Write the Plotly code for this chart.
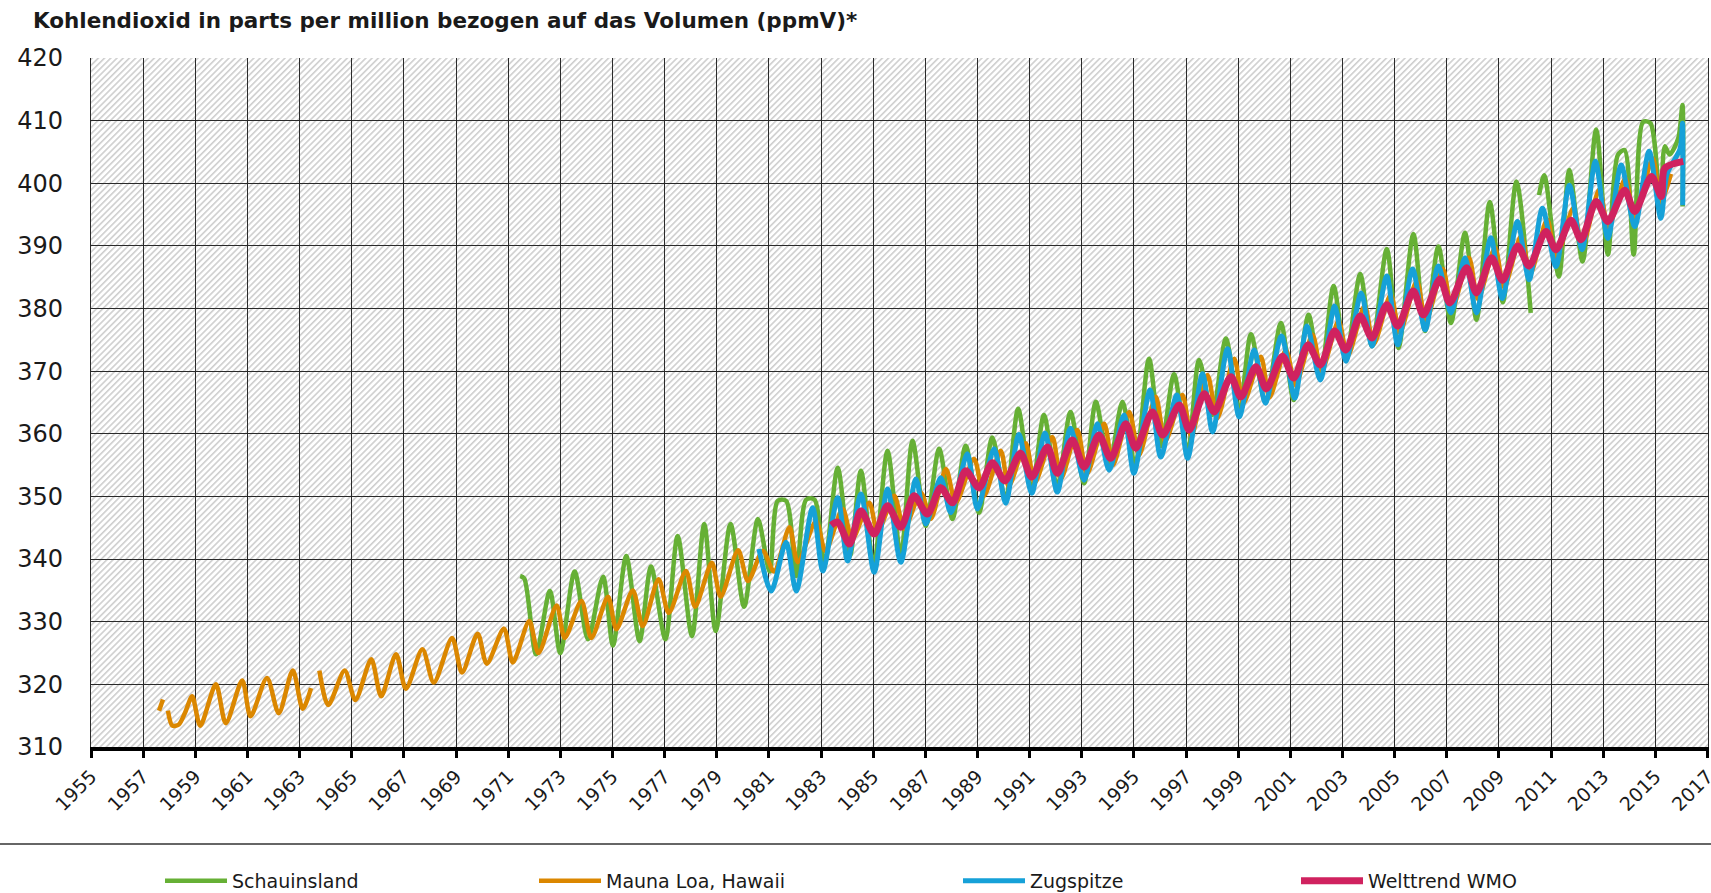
import base64
import plotly.graph_objects as go

# ---------------- data ----------------
YEAR_TICKS = list(range(1955, 2018, 2))
PPM_TICKS = list(range(310, 421, 10))

mauna_x = [1957.61, 1957.76, None, 1957.95, 1958.12, 1958.37, 1958.62, 1958.88, 1959.19,
           1959.79, 1960.17, 1960.80, 1961.12, 1961.75, 1962.20, 1962.74, 1963.12, 1963.44, None,
           1963.76, 1964.10, 1964.73, 1965.14, 1965.75, 1966.13, 1966.70, 1967.08, 1967.71, 1968.15,
           1968.85, 1969.23, 1969.83, 1970.18, 1970.84, 1971.18, 1971.81, 1972.16, 1972.86, 1973.17,
           1973.81, 1974.19, 1974.83, 1975.15, 1975.78, 1976.16, 1976.77, 1977.16, 1977.82, 1978.17,
           1978.81, 1979.15, 1979.82, 1980.20, 1980.77, 1981.20, 1981.79, 1982.11, 1982.81, 1983.17,
           1983.83, 1984.20, 1984.85, 1985.17, 1985.81, 1986.19, 1986.83, 1987.21, 1987.79, 1988.17,
           1988.87, 1989.25, 1989.89, 1990.20, 1990.85, 1991.20, 1991.87, 1992.20, 1992.83, 1993.20,
           1993.86, 1994.20, 1994.82, 1995.20, 1995.84, 1996.20, 1996.86, 1997.20, 1997.82, 1998.20,
           1998.85, 1999.20, 1999.87, 2000.20, 2000.83, 2001.20, 2001.85, 2002.20, 2002.85, 2003.20,
           2003.85, 2004.20, 2004.85, 2005.20, 2005.85, 2006.20, 2006.85, 2007.20, 2007.85, 2008.20,
           2008.85, 2009.20, 2009.85, 2010.20, 2010.85, 2011.20, 2011.85, 2012.20, 2012.85, 2013.20,
           2013.85, 2014.20, 2014.90, 2015.20, 2015.60]
mauna_ppm = [315.8, 317.6, None, 315.8, 313.4, 313.6, 315.6, 318.1, 313.4,
             320.0, 313.8, 320.6, 314.9, 321.0, 315.4, 322.2, 316.1, 319.4, None,
             322.2, 316.7, 322.2, 317.5, 324.0, 318.1, 324.8, 319.3, 325.6, 320.3,
             327.4, 321.9, 328.1, 323.3, 328.9, 323.5, 330.1, 325.0, 332.6, 327.4,
             333.3, 327.4, 334.0, 328.8, 335.0, 329.3, 336.8, 331.4, 338.1, 332.4,
             339.4, 334.0, 341.4, 336.5, 341.3, 338.0, 345.1, 339.5, 346.1, 341.3,
             348.0, 343.2, 349.0, 344.3, 350.1, 344.8, 350.6, 346.4, 354.4, 349.0,
             356.0, 350.1, 357.3, 351.6, 358.5, 352.2, 359.5, 352.8, 360.6, 353.6,
             361.6, 355.0, 363.5, 356.6, 365.9, 358.8, 366.2, 359.6, 369.4, 362.5,
             372.0, 364.9, 372.3, 365.8, 373.4, 367.8, 375.8, 370.0, 378.0, 372.4,
             380.4, 374.3, 382.2, 376.2, 384.4, 378.0, 386.3, 379.9, 388.1, 381.5,
             389.7, 383.4, 391.6, 385.5, 394.2, 388.0, 396.0, 390.0, 399.0, 392.9,
             400.8, 394.5, 404.0, 397.0, 401.5]

schau_x = [1971.46, 1971.62, 1972.07, 1972.60, 1973.00, 1973.55, 1974.06, 1974.64, 1975.02,
           1975.53, 1976.04, 1976.48, 1977.03, 1977.50, 1978.05, 1978.52, 1978.96, 1979.53,
           1980.05, 1980.58, 1981.03, 1981.34, 1981.66, 1982.05, 1982.43, 1982.75, 1983.13,
           1983.64, 1984.11, 1984.53, 1985.02, 1985.55, 1986.06, 1986.51, 1987.02, 1987.53,
           1988.04, 1988.55, 1989.06, 1989.57, 1990.08, 1990.56, 1991.08, 1991.55, 1992.06,
           1992.57, 1993.09, 1993.54, 1994.05, 1994.56, 1995.05, 1995.58, 1996.05, 1996.54,
           1997.06, 1997.50, 1998.00, 1998.53, 1999.04, 1999.49, 2000.05, 2000.64, 2001.13,
           2001.70, 2002.15, 2002.66, 2003.13, 2003.68, 2004.13, 2004.70, 2005.15, 2005.72,
           2006.17, 2006.68, 2007.16, 2007.70, 2008.14, 2008.65, 2009.15, 2009.67, 2010.22, None,
           2010.54, 2010.74, 2011.30, 2011.70, 2012.21, 2012.73, 2013.18, 2013.56, 2013.82,
           2014.17, 2014.53, 2014.81, 2015.20, 2015.36, 2015.55, 2015.88, 2016.04, 2016.05]
schau_ppm = [337.3, 336.9, 324.8, 334.9, 325.0, 338.0, 327.2, 337.2, 326.2,
             340.5, 326.9, 338.8, 327.2, 343.7, 327.7, 345.6, 328.5, 345.6,
             332.4, 346.4, 338.0, 349.3, 349.3, 337.3, 349.5, 349.5, 339.0,
             354.6, 340.5, 354.1, 339.0, 357.3, 340.5, 358.9, 345.3, 357.6,
             346.4, 358.1, 347.4, 359.4, 349.5, 364.0, 351.0, 363.0, 351.5,
             363.5, 352.1, 365.1, 355.0, 365.1, 355.0, 372.0, 358.0, 369.5,
             357.0, 371.8, 363.0, 375.2, 363.5, 375.9, 365.0, 377.7, 365.4,
             379.0, 369.0, 383.6, 372.0, 385.5, 374.0, 389.5, 373.7, 391.9,
             376.4, 389.9, 377.7, 392.1, 378.2, 397.0, 381.0, 400.3, 379.3, None,
             398.1, 401.3, 385.1, 402.1, 387.5, 408.6, 388.6, 404.5, 405.3,
             388.6, 409.8, 409.6, 396.0, 405.9, 404.6, 407.2, 412.5, 396.3]

zug_x = [1980.62, 1981.09, 1981.66, 1982.05, 1982.68, 1983.07, 1983.64, 1984.02, 1984.53,
         1985.04, 1985.55, 1986.06, 1986.64, 1987.02, 1987.59, 1987.98, 1988.61, 1989.00,
         1989.64, 1990.08, 1990.59, 1991.08, 1991.59, 1992.06, 1992.57, 1993.09, 1993.60,
         1994.05, 1994.62, 1995.00, 1995.62, 1996.03, 1996.65, 1997.06, 1997.63, 1998.02,
         1998.59, 1999.04, 1999.62, 2000.04, 2000.66, 2001.17, 2001.64, 2002.15, 2002.70,
         2003.13, 2003.72, 2004.13, 2004.70, 2005.12, 2005.69, 2006.17, 2006.68, 2007.16,
         2007.70, 2008.14, 2008.69, 2009.13, 2009.71, 2010.16, 2010.67, 2011.19, 2011.70,
         2012.19, 2012.70, 2013.18, 2013.69, 2014.21, 2014.76, 2015.21, 2015.45, 2015.95,
         2016.04, 2016.05]
zug_ppm = [341.6, 334.9, 342.7, 334.9, 348.2, 338.1, 349.8, 339.7, 350.4,
           337.9, 351.2, 339.5, 352.8, 345.6, 353.0, 347.4, 356.8, 348.0,
           357.6, 348.9, 359.9, 350.5, 360.1, 350.7, 360.9, 352.6, 361.6,
           354.2, 363.0, 353.7, 367.0, 356.3, 366.2, 356.1, 369.6, 360.3,
           373.6, 362.7, 373.4, 364.9, 375.6, 365.7, 377.2, 368.6, 380.4,
           371.6, 382.5, 374.0, 385.2, 374.2, 386.3, 376.6, 386.8, 379.3,
           388.1, 379.3, 391.3, 381.6, 393.9, 384.6, 396.0, 386.7, 399.7,
           389.4, 403.5, 391.2, 402.9, 393.1, 405.1, 394.4, 401.5, 405.5,
           409.6, 396.5]

wmo_x = [1983.39, 1983.64, 1984.09, 1984.53, 1985.04, 1985.55, 1986.06, 1986.57, 1987.08,
         1987.59, 1988.04, 1988.55, 1989.06, 1989.57, 1990.05, 1990.65, 1991.08, 1991.68,
         1992.06, 1992.64, 1993.09, 1993.66, 1994.11, 1994.69, 1995.07, 1995.71, 1996.10,
         1996.74, 1997.12, 1997.70, 1998.08, 1998.72, 1999.10, 1999.68, 2000.08, 2000.70,
         2001.13, 2001.68, 2002.15, 2002.70, 2003.13, 2003.68, 2004.13, 2004.70, 2005.12,
         2005.72, 2006.10, 2006.74, 2007.12, 2007.76, 2008.14, 2008.72, 2009.14, 2009.72,
         2010.16, 2010.80, 2011.19, 2011.76, 2012.15, 2012.73, 2013.18, 2013.82, 2014.21,
         2014.85, 2015.23, 2015.36, 2016.07]
wmo_ppm = [345.4, 345.9, 342.4, 347.7, 344.0, 348.5, 345.1, 350.1, 347.2,
           351.4, 349.0, 354.1, 351.4, 355.4, 352.5, 356.9, 353.1, 357.9,
           353.7, 359.0, 354.7, 359.8, 356.1, 361.6, 357.7, 363.5, 359.8,
           364.6, 360.6, 366.4, 363.5, 369.1, 365.9, 370.7, 367.2, 372.4,
           368.9, 374.2, 371.0, 376.4, 373.4, 378.8, 375.3, 380.6, 377.2,
           382.8, 379.0, 384.7, 380.9, 386.5, 382.5, 388.1, 384.5, 390.0,
           386.8, 392.3, 389.4, 394.1, 391.0, 397.1, 393.9, 398.9, 395.5,
           401.1, 397.9, 402.4, 403.5]

for a, b in [(mauna_x, mauna_ppm), (schau_x, schau_ppm), (zug_x, zug_ppm), (wmo_x, wmo_ppm)]:
    assert len(a) == len(b), (len(a), len(b))

SERIES = [
    ("Schauinsland", schau_x, schau_ppm, "#66b035", 4.5),
    ("Mauna Loa, Hawaii", mauna_x, mauna_ppm, "#db8700", 4.5),
    ("Zugspitze", zug_x, zug_ppm, "#16a1d8", 5),
    ("Welttrend WMO", wmo_x, wmo_ppm, "#d0225f", 7),
]
LEGEND_LEFT_PX = [166, 540, 964, 1302]   # where each legend line sample starts

# ---------------- layout geometry ----------------
W, H = 1711, 893
ML, MR, MT, MB = 91, 3, 58, 146
PW, PH = W - ML - MR, H - MT - MB

# hatched plot background (drawn below the grid)
svg = (
    f"<svg xmlns='http://www.w3.org/2000/svg' width='{PW}' height='{PH}'>"
    "<defs><pattern id='h' width='4.4' height='4.4' patternUnits='userSpaceOnUse' "
    "patternTransform='rotate(45)'><rect width='4.4' height='4.4' fill='#ffffff'/>"
    "<line x1='0.8' y1='0' x2='0.8' y2='4.4' stroke='#cbcbcb' stroke-width='1.5'/></pattern></defs>"
    "<rect width='100%' height='100%' fill='url(#h)'/></svg>"
)
hatch_uri = "data:image/svg+xml;base64," + base64.b64encode(svg.encode()).decode()

TEXT = "#1a1a1a"
fig = go.Figure()
legend_layouts = {}
for i, (name, xs, ys, col, lw) in enumerate(SERIES):
    lname = "legend" if i == 0 else f"legend{i + 1}"
    fig.add_trace(go.Scatter(
        x=xs, y=ys, name=name, mode="lines",
        line=dict(color=col, width=lw, shape="spline", smoothing=0.8),
        connectgaps=False, hoverinfo="skip", legend=lname,
    ))
    legend_layouts[lname] = dict(
        orientation="h", x=(LEGEND_LEFT_PX[i] - 6 - ML) / PW, xanchor="left",
        y=-(881 - (H - MB)) / PH, yanchor="middle", itemwidth=62,
        font=dict(family="DejaVu Sans", size=19, color=TEXT),
        bgcolor="rgba(0,0,0,0)",
    )

fig.update_layout(
    width=W, height=H,
    margin=dict(l=ML, r=MR, t=MT, b=MB, autoexpand=False),
    paper_bgcolor="white", plot_bgcolor="white",
    title=dict(
        text="Kohlendioxid in parts per million bezogen auf das Volumen (ppmV)*",
        x=33 / W, xref="container", xanchor="left",
        y=1 - 20 / H, yref="container", yanchor="middle",
        font=dict(family="DejaVu Sans", size=21.5, color=TEXT, weight="bold"),
    ),
    xaxis=dict(
        range=[1955, 2017.02], tickmode="array", tickvals=YEAR_TICKS,
        ticktext=[str(v) for v in YEAR_TICKS], tickangle=-45,
        showgrid=True, gridcolor="#2a2a2a", gridwidth=1.3,
        showline=True, linecolor="black", linewidth=4,
        ticks="outside", ticklen=7, tickwidth=3, tickcolor="black",
        tickfont=dict(family="DejaVu Sans", size=19, color=TEXT),
        ticklabeloverflow="allow",
        zeroline=False, fixedrange=True, automargin=False,
    ),
    yaxis=dict(
        range=[310, 420], tickmode="array", tickvals=PPM_TICKS,
        showgrid=True, gridcolor="#2a2a2a", gridwidth=1.3,
        showline=True, linecolor="#2a2a2a", linewidth=1.3, mirror=True,
        ticks="", ticklabelstandoff=22,
        tickfont=dict(family="DejaVu Sans", size=24, color=TEXT),
        zeroline=False, fixedrange=True, automargin=False,
    ),
    images=[dict(source=hatch_uri, xref="paper", yref="paper", x=0, y=1,
                 sizex=1, sizey=1, sizing="stretch", xanchor="left", yanchor="top",
                 layer="below")],
    shapes=[dict(type="line", xref="paper", yref="paper",
                 x0=-ML / PW, x1=(W - ML) / PW, y0=-(844 - (H - MB)) / PH, y1=-(844 - (H - MB)) / PH,
                 line=dict(color="#333333", width=1.5))],
    showlegend=True,
    **legend_layouts,
)

fig.write_html(
    "out.html",
    config={"displayModeBar": False},
    post_script="document.body.style.margin='0';document.body.style.overflow='hidden';",
)
